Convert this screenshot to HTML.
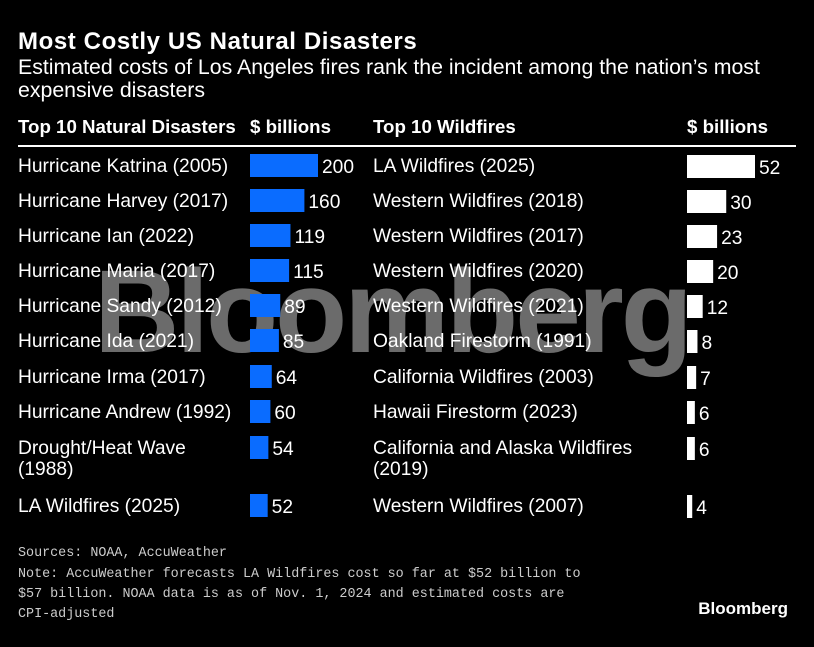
<!DOCTYPE html>
<html><head><meta charset="utf-8"><style>
html,body{margin:0;padding:0;background:#000;}
svg{display:block;font-family:"Liberation Sans",Arial,sans-serif;}
</style></head><body>
<svg width="814" height="647" viewBox="0 0 814 647">
<rect width="814" height="647" fill="#000"/>
<text x="18" y="49" fill="#fff" font-size="24" font-weight="bold" letter-spacing="0.6">Most Costly US Natural Disasters</text>
<text x="18" y="74" fill="#fff" font-size="21.3">Estimated costs of Los Angeles fires rank the incident among the nation’s most</text>
<text x="18" y="97" fill="#fff" font-size="21.3">expensive disasters</text>
<text x="18" y="133" fill="#fff" font-size="18.7" font-weight="bold">Top 10 Natural Disasters</text>
<text x="250" y="133" fill="#fff" font-size="18.7" font-weight="bold">$ billions</text>
<text x="373" y="133" fill="#fff" font-size="18.7" font-weight="bold">Top 10 Wildfires</text>
<text x="687" y="133" fill="#fff" font-size="18.7" font-weight="bold">$ billions</text>
<rect x="18" y="145" width="778" height="2" fill="#fff"/>
<text x="392" y="352" fill="#fff" fill-opacity="0.42" font-size="118" font-weight="bold" text-anchor="middle" letter-spacing="-3">Bloomberg</text>
<g id="rows"></g>
<text x="18" y="556" fill="#ccc" font-size="13.4" font-family="Liberation Mono, monospace">Sources: NOAA, AccuWeather</text>
<text x="18" y="577" fill="#ccc" font-size="13.4" font-family="Liberation Mono, monospace">Note: AccuWeather forecasts LA Wildfires cost so far at $52 billion to</text>
<text x="18" y="597" fill="#ccc" font-size="13.4" font-family="Liberation Mono, monospace">$57 billion. NOAA data is as of Nov. 1, 2024 and estimated costs are</text>
<text x="18" y="617" fill="#ccc" font-size="13.4" font-family="Liberation Mono, monospace">CPI-adjusted</text>
<text x="788" y="614" fill="#fff" font-size="17" font-weight="bold" text-anchor="end">Bloomberg</text>
</svg>
<script>
const leftNames = [["Hurricane Katrina (2005)"],["Hurricane Harvey (2017)"],["Hurricane Ian (2022)"],["Hurricane Maria (2017)"],["Hurricane Sandy (2012)"],["Hurricane Ida (2021)"],["Hurricane Irma (2017)"],["Hurricane Andrew (1992)"],["Drought/Heat Wave","(1988)"],["LA Wildfires (2025)"]];
const leftValues = [200,160,119,115,89,85,64,60,54,52];
const rightNames = [["LA Wildfires (2025)"],["Western Wildfires (2018)"],["Western Wildfires (2017)"],["Western Wildfires (2020)"],["Western Wildfires (2021)"],["Oakland Firestorm (1991)"],["California Wildfires (2003)"],["Hawaii Firestorm (2023)"],["California and Alaska Wildfires","(2019)"],["Western Wildfires (2007)"]];
const rightValues = [52,30,23,20,12,8,7,6,6,4];
const NS="http://www.w3.org/2000/svg";
const g=document.getElementById('rows');
const rowTop=[154,189,224,259,294,329,365,400,436,494];
const xL=v=>v*68/Math.max(...leftValues);
const xR=v=>v*68/Math.max(...rightValues);
function txt(x,y,s,name){const t=document.createElementNS(NS,'text');t.setAttribute('x',x);t.setAttribute('y',y);t.setAttribute('fill','#fff');t.setAttribute('font-size','19.2');t.textContent=s;


g.appendChild(t);}
function bar(x,y,w,c,name){const r=document.createElementNS(NS,'rect');r.setAttribute('x',x);r.setAttribute('y',y);r.setAttribute('width',w);r.setAttribute('height',23);r.setAttribute('fill',c);


g.appendChild(r);}
for(let i=0;i<10;i++){
  const y=rowTop[i];
  leftNames[i].forEach((s,k)=>txt(18,y+18+k*21,s,'left-label'));
  const wl=xL(leftValues[i]);
  bar(250,y,wl,'#0a6cff','left-bar');
  txt(250+wl+4,y+19,String(leftValues[i]),'left-value');
  rightNames[i].forEach((s,k)=>txt(373,y+18+k*21,s,'right-label'));
  const wr=xR(rightValues[i]);
  bar(687,y+1,wr,'#fff','right-bar');
  txt(687+wr+4,y+20,String(rightValues[i]),'right-value');
}
</script>
</body></html>
